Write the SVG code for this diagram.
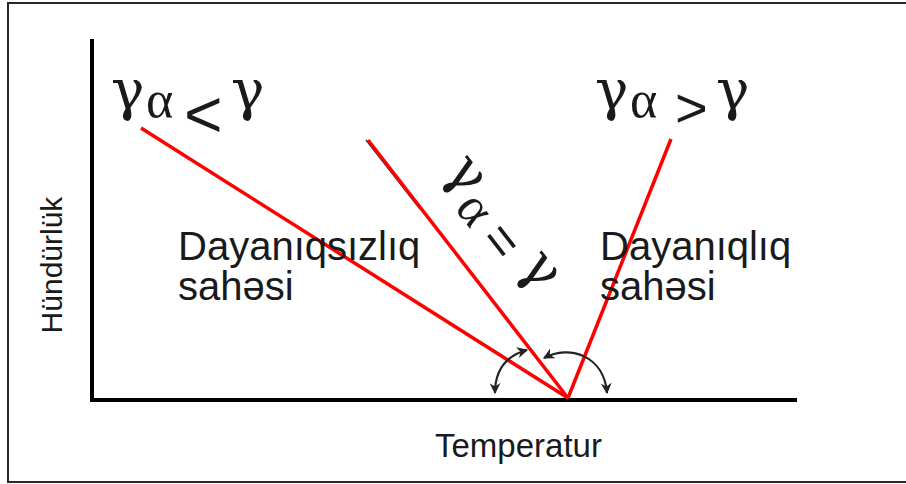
<svg xmlns="http://www.w3.org/2000/svg" width="906" height="484" viewBox="0 0 906 484">
<defs>
<marker id="ah" viewBox="0 0 10 10" refX="9" refY="5" markerWidth="11" markerHeight="11" markerUnits="userSpaceOnUse" orient="auto-start-reverse">
<path d="M0,0 L10,5 L0,10 L3,5 Z" fill="#222"/>
</marker>
<style>
.frame{fill:none;stroke:#2b2621;stroke-width:2}
.axis{stroke:#000;stroke-width:4;fill:none}
.red{stroke:#ff0000;stroke-width:3.5;fill:none}
.arc{stroke:#222;stroke-width:2.2;fill:none;marker-start:url(#ah);marker-end:url(#ah)}
.g{font-family:"DejaVu Serif",serif;fill:#1a1a1a}
.a{font-family:"Liberation Serif","DejaVu Serif",serif;fill:#1a1a1a}
.s{font-family:"Liberation Sans",Arial,sans-serif;fill:#1a1a1a}
</style>
</defs>
<rect width="906" height="484" fill="#fff"/>
<path class="frame" d="M920,3 H8 V482 H920"/>
<g id="axes">
<line class="axis" x1="92" y1="39" x2="92" y2="402"/>
<line class="axis" x1="90" y1="400" x2="797" y2="400"/>
</g>
<g id="connectors">
<line x1="366" y1="140" x2="420" y2="209" stroke="#333" stroke-width="1.5"/>
<line class="red" x1="141" y1="128" x2="568" y2="398"/>
<line class="red" x1="368" y1="140" x2="568" y2="398"/>
<line class="red" x1="671" y1="139" x2="568" y2="398"/>
<path class="arc" d="M527,350 C505,356 495,370 495,393"/>
<path class="arc" d="M544,358 C570,344 604,356 607,393"/>
</g>
<g id="label-left">
<text class="g" x="111" y="109" font-size="56">γ</text>
<text class="a" x="146" y="117" font-size="52">α</text>
<text class="s" x="184" y="137" font-size="66">&lt;</text>
<text class="g" x="231" y="109" font-size="56">γ</text>
</g>
<g id="label-right">
<text class="g" x="595" y="109" font-size="56">γ</text>
<text class="a" x="630" y="117" font-size="52">α</text>
<text class="s" x="675" y="127" font-size="56">&gt;</text>
<text class="g" x="716" y="109" font-size="56">γ</text>
</g>
<g id="label-mid" transform="translate(460,177) rotate(52)">
<text class="g" x="-15" y="10" font-size="56">γ</text>
<text class="a" x="21" y="24" font-size="52">α</text>
<text class="s" x="61" y="24" font-size="52">=</text>
<text class="g" x="106" y="10" font-size="56">γ</text>
</g>
<g id="region-left">
<text class="s" x="178" y="260" font-size="40">Dayanıqsızlıq</text>
<text class="s" x="178" y="300" font-size="40">sahəsi</text>
</g>
<g id="region-right">
<text class="s" x="600" y="260" font-size="40">Dayanıqlıq</text>
<text class="s" x="600" y="300" font-size="40">sahəsi</text>
</g>
<g id="ylabel">
<text class="s" transform="translate(62,265) rotate(-90)" text-anchor="middle" font-size="30">Hündürlük</text>
</g>
<g id="xlabel">
<text class="s" x="435" y="457" font-size="33">Temperatur</text>
</g>
</svg>
